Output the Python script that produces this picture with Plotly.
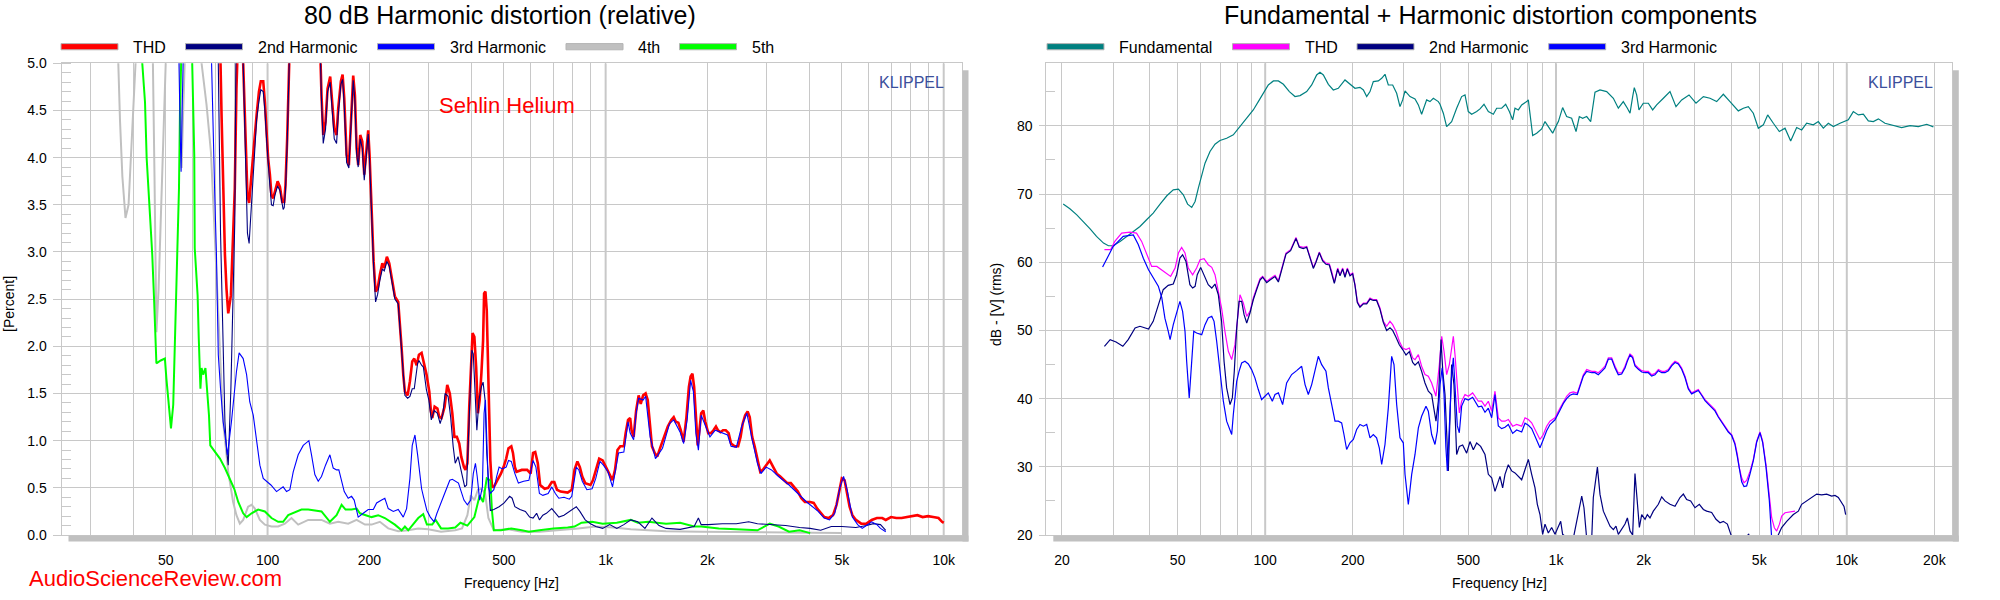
import plotly.graph_objects as go

W, H = 2000, 600
def px(x): return x / W
def py(y): return 1 - y / H

GRID = "#C8C8C8"
FONT = "Liberation Sans, Arial, sans-serif"

# ---------------- LEFT CHART DATA (percent) ----------------
thd_f = [70, 72.3, 73.1, 73.9, 74.8, 75.6, 76.5, 77.9, 79.1, 80.0, 80.9, 81.3, 83.0, 84.7, 85.7, 86.3, 87.2, 88.2, 89.2, 90.7, 91.7, 92.8, 94.3, 95.5, 97.1, 98.2, 99.3, 100.4, 101.6, 102.7, 103.9, 105.1, 107.1, 108.8, 110.5, 112.0, 113.0, 114.3, 115.1, 115.9, 125, 143.5, 144.4, 146.1, 148.4, 150.5, 153.2, 155.3, 157.5, 160.0, 161.8, 164.8, 166.7, 168.6, 171.3, 174.0, 176.4, 179.2, 181.3, 183.4, 185.4, 188.0, 190.6, 193.2, 196.3, 198.5, 200.3, 202.2, 204.0, 205.9, 208.7, 211.6, 214.9, 218.5, 221.4, 225.4, 229.1, 232.8, 238.0, 243.5, 246.3, 249.2, 252.0, 254.8, 259.6, 263.7, 267.9, 271.6, 276.0, 280.4, 285.5, 290.8, 295.3, 300.9, 304.3, 307.1, 312, 318, 322, 327, 334, 340, 346, 352, 357, 363, 369, 374, 381, 385, 390, 395, 399, 404, 409, 414, 419, 424, 429, 434, 437, 441, 445, 450, 456, 461, 467, 478, 490, 499, 508, 516, 526, 532, 539, 545, 565, 586, 600, 610, 619, 630, 640, 660, 676, 693, 705, 718, 736, 772, 794, 809, 825, 839, 853, 870, 902, 917, 935, 957, 980, 1004, 1028, 1048, 1066, 1084, 1105, 1132, 1146, 1165, 1182, 1193, 1210, 1231, 1252, 1270, 1291, 1313, 1332, 1354, 1371, 1397, 1421, 1455, 1491, 1527, 1564, 1590, 1613, 1641, 1669, 1701, 1734, 1763, 1784, 1806, 1827, 1849, 1872, 1894, 1917, 1945, 1972, 2011, 2050, 2084, 2120, 2150, 2187, 2224, 2267, 2311, 2350, 2407, 2465, 2507, 2543, 2586, 2630, 2668, 2713, 2759, 2812, 2866, 2915, 2985, 3058, 3132, 3208, 3285, 3365, 3446, 3530, 3615, 3703, 3793, 3885, 4027, 4125, 4225, 4327, 4433, 4562, 4706, 4819, 4936, 4996, 5092, 5179, 5267, 5369, 5499, 5700, 5908, 6124, 6346, 6579, 6738, 6986, 7241, 7506, 7780, 8065, 8360, 8665, 8983, 9311, 9652, 9886, 10005]
thd_v = [6.0, 5.3, 4.45, 3.67, 2.97, 2.61, 2.35, 2.54, 3.11, 3.67, 4.73, 5.0, 6.0, 5.0, 4.38, 3.92, 3.60, 3.52, 3.75, 4.03, 4.24, 4.45, 4.70, 4.81, 4.81, 4.59, 4.31, 3.99, 3.82, 3.60, 3.57, 3.64, 3.75, 3.69, 3.53, 3.53, 3.71, 4.20, 4.66, 5.0, 6.0, 5.0, 4.66, 4.24, 4.38, 4.73, 4.86, 4.56, 4.31, 4.24, 4.52, 4.81, 4.88, 4.63, 4.03, 3.92, 4.38, 4.87, 4.66, 4.10, 3.92, 4.24, 4.17, 3.82, 4.10, 4.29, 4.03, 3.60, 3.25, 2.90, 2.58, 2.61, 2.76, 2.88, 2.83, 2.95, 2.88, 2.72, 2.53, 2.47, 2.26, 1.98, 1.70, 1.52, 1.48, 1.63, 1.84, 1.87, 1.80, 1.91, 1.93, 1.80, 1.70, 1.52, 1.31, 1.24, 1.36, 1.34, 1.25, 1.24, 1.36, 1.59, 1.50, 1.29, 1.04, 1.04, 0.97, 0.83, 0.72, 0.69, 0.76, 1.36, 1.71, 2.14, 2.10, 1.78, 1.29, 1.43, 1.71, 2.06, 2.56, 2.58, 2.38, 1.64, 0.79, 0.51, 0.51, 0.58, 0.65, 0.72, 0.81, 0.92, 0.94, 0.87, 0.72, 0.67, 0.69, 0.69, 0.65, 0.87, 0.88, 0.76, 0.53, 0.49, 0.50, 0.56, 0.56, 0.48, 0.46, 0.45, 0.48, 0.69, 0.78, 0.72, 0.62, 0.55, 0.53, 0.58, 0.69, 0.81, 0.79, 0.72, 0.65, 0.58, 0.69, 0.90, 0.94, 0.94, 1.08, 1.22, 1.24, 1.11, 1.04, 1.32, 1.48, 1.39, 1.48, 1.50, 1.43, 1.11, 0.94, 0.87, 0.83, 0.94, 1.04, 1.15, 1.22, 1.25, 1.20, 1.19, 1.11, 0.99, 1.25, 1.57, 1.68, 1.71, 1.57, 1.29, 0.95, 1.11, 1.29, 1.32, 1.20, 1.08, 1.08, 1.11, 1.15, 1.11, 1.09, 1.11, 1.11, 1.08, 0.97, 0.94, 0.94, 1.04, 1.18, 1.27, 1.31, 1.25, 1.04, 0.94, 0.79, 0.67, 0.69, 0.74, 0.79, 0.72, 0.65, 0.62, 0.58, 0.55, 0.55, 0.51, 0.46, 0.39, 0.35, 0.35, 0.34, 0.28, 0.23, 0.19, 0.18, 0.21, 0.32, 0.51, 0.60, 0.58, 0.44, 0.30, 0.21, 0.16, 0.12, 0.12, 0.16, 0.18, 0.18, 0.16, 0.19, 0.18, 0.18, 0.19, 0.20, 0.21, 0.19, 0.20, 0.19, 0.18, 0.14, 0.13]

h2_f = [70, 71.5, 72.6, 73.9, 74.8, 75.6, 76.5, 77.9, 78.8, 79.5, 80.0, 80.6, 82, 84.7, 85.7, 86.3, 87.2, 88.2, 89.2, 90.7, 91.7, 92.8, 94.3, 95.5, 97.1, 98.2, 99.3, 100.4, 101.6, 102.7, 103.9, 105.1, 107.1, 108.8, 110.5, 111.2, 112.0, 113.0, 114.3, 115.1, 115.9, 125, 143.5, 144.4, 146.1, 148.4, 150.5, 153.2, 155.3, 157.5, 160.0, 161.8, 164.8, 166.7, 168.6, 171.3, 174.0, 176.4, 179.2, 181.3, 183.4, 185.4, 188.0, 190.6, 193.2, 196.3, 198.5, 200.3, 202.2, 204.0, 205.9, 208.7, 211.6, 214.9, 218.5, 221.4, 225.4, 229.1, 232.8, 238.0, 243.5, 246.3, 249.2, 252.0, 254.8, 259.6, 263.7, 267.9, 271.6, 277.9, 280.4, 285.5, 289, 295, 300, 305, 311, 318, 324, 330, 335, 342, 348, 354, 359, 366, 372, 378, 383, 388, 393, 398, 402, 406, 412, 416, 422, 429, 434, 440, 445, 450, 456, 467, 484, 501, 520, 529, 539, 558, 579, 596, 610, 625, 637, 652, 668, 693, 710, 727, 753, 781, 819, 839, 870, 902, 935, 980, 1028, 1079, 1132, 1187, 1245, 1307, 1371, 1438, 1509, 1661, 1827, 1881, 1917, 2011, 2213, 2436, 2649, 2812, 3095, 3406, 3748, 4027, 4327, 4650, 4996, 5499, 5908, 6197, 6501, 6738]
h2_v = [6.0, 5.0, 3.2, 1.9, 1.2, 0.92, 0.74, 1.55, 2.26, 2.97, 3.32, 5.0, 6.0, 5.0, 4.3, 3.6, 3.2, 3.09, 3.4, 3.9, 4.15, 4.4, 4.6, 4.72, 4.7, 4.5, 4.2, 3.9, 3.7, 3.5, 3.49, 3.6, 3.7, 3.65, 3.5, 3.45, 3.47, 3.65, 4.15, 4.6, 5.0, 6.0, 5.0, 4.6, 4.15, 4.3, 4.7, 4.8, 4.5, 4.2, 4.15, 4.45, 4.78, 4.83, 4.55, 3.95, 3.89, 4.3, 4.82, 4.6, 4.05, 3.9, 4.2, 4.1, 3.76, 4.05, 4.25, 3.98, 3.55, 3.2, 2.85, 2.47, 2.55, 2.7, 2.82, 2.8, 2.9, 2.85, 2.7, 2.5, 2.45, 2.22, 1.95, 1.67, 1.48, 1.45, 1.47, 1.55, 1.55, 1.82, 1.85, 1.80, 1.78, 1.54, 1.43, 1.22, 1.32, 1.29, 1.18, 1.28, 1.50, 1.47, 1.25, 0.94, 0.76, 0.83, 0.72, 0.62, 0.51, 0.53, 1.08, 1.57, 1.96, 1.92, 1.47, 1.11, 1.43, 1.57, 1.62, 1.43, 0.87, 0.55, 0.26, 0.27, 0.30, 0.34, 0.41, 0.39, 0.30, 0.27, 0.25, 0.19, 0.18, 0.23, 0.16, 0.21, 0.23, 0.28, 0.23, 0.19, 0.21, 0.25, 0.30, 0.25, 0.16, 0.12, 0.09, 0.07, 0.11, 0.07, 0.11, 0.16, 0.14, 0.07, 0.18, 0.10, 0.07, 0.06, 0.09, 0.18, 0.11, 0.11, 0.12, 0.12, 0.14, 0.12, 0.11, 0.10, 0.08, 0.07, 0.05, 0.09, 0.09, 0.08, 0.10, 0.12, 0.11, 0.05]

h3_f = [53.5, 54.7, 55.2, 55.5, 55.9, 56.3, 57, 68.3, 69.1, 69.8, 70.6, 71.5, 72.6, 73.9, 75.1, 76.1, 78.2, 80.0, 80.9, 82.4, 84.7, 86.7, 88.6, 90.7, 92.8, 94.9, 97.1, 99.3, 102.3, 106.3, 108.8, 111.2, 113.8, 116.4, 119.1, 123.2, 127.5, 132.5, 134.9, 138.0, 141.2, 144.4, 148.4, 152.9, 156.4, 160.0, 162.5, 165.6, 168.6, 173.2, 177.2, 180.4, 185.4, 191.9, 198.5, 205.5, 210.2, 217.5, 222.3, 227.5, 235.5, 243.5, 252.0, 257.8, 263.7, 267.9, 272.9, 277.9, 285.5, 289, 296, 303, 311, 317, 322, 334, 346, 352, 367, 381, 390, 399, 406, 412, 417, 424, 432, 437, 441, 445, 450, 456, 467, 476, 484, 495, 508, 516, 526, 539, 552, 572, 593, 610, 622, 637, 652, 676, 693, 710, 727, 753, 781, 794, 819, 833, 853, 880, 912, 935, 962, 985, 1016, 1048, 1066, 1092, 1132, 1165, 1182, 1210, 1231, 1252, 1291, 1313, 1354, 1404, 1473, 1545, 1590, 1661, 1701, 1742, 1784, 1818, 1849, 1881, 1917, 1963, 2035, 2110, 2213, 2295, 2350, 2436, 2525, 2617, 2713, 2812, 2880, 2985, 3095, 3247, 3488, 3748, 3932, 4225, 4433, 4594, 4762, 4936, 5056, 5179, 5369, 5565, 5741, 5908, 6124, 6346, 6501, 6738]
h3_v = [6.0, 5.0, 4.2, 3.85, 4.5, 5.0, 6.0, 5.0, 4.03, 3.60, 2.97, 1.91, 1.55, 1.20, 1.02, 0.85, 1.20, 1.55, 1.73, 1.93, 1.87, 1.70, 1.41, 1.27, 1.02, 0.74, 0.60, 0.57, 0.53, 0.46, 0.49, 0.51, 0.46, 0.48, 0.67, 0.85, 0.95, 1.0, 0.85, 0.64, 0.57, 0.62, 0.74, 0.85, 0.71, 0.69, 0.69, 0.57, 0.46, 0.39, 0.41, 0.37, 0.19, 0.23, 0.27, 0.27, 0.34, 0.37, 0.39, 0.28, 0.25, 0.27, 0.19, 0.28, 0.60, 0.95, 1.06, 0.85, 0.49, 0.41, 0.26, 0.19, 0.14, 0.23, 0.30, 0.44, 0.58, 0.59, 0.55, 0.37, 0.32, 0.37, 0.65, 0.76, 0.62, 0.37, 0.51, 1.29, 1.43, 1.08, 0.51, 0.44, 0.48, 0.62, 0.72, 0.70, 0.72, 0.79, 0.78, 0.65, 0.55, 0.57, 0.58, 0.79, 0.72, 0.44, 0.42, 0.44, 0.51, 0.44, 0.39, 0.40, 0.38, 0.41, 0.72, 0.69, 0.57, 0.48, 0.49, 0.60, 0.78, 0.74, 0.67, 0.51, 0.65, 0.87, 0.88, 1.20, 1.08, 1.01, 1.29, 1.45, 1.43, 1.47, 1.04, 0.81, 0.92, 1.18, 1.22, 1.09, 0.97, 1.22, 1.64, 1.52, 1.08, 0.90, 1.27, 1.18, 1.04, 1.11, 1.08, 1.06, 0.94, 0.93, 1.15, 1.29, 1.01, 0.76, 0.65, 0.72, 0.69, 0.62, 0.53, 0.42, 0.35, 0.26, 0.18, 0.16, 0.23, 0.51, 0.62, 0.48, 0.19, 0.11, 0.07, 0.10, 0.14, 0.11, 0.07, 0.035]

h4_f = [35.5, 36.1, 36.6, 37.2, 38.0, 38.8, 39.5, 40.3, 41.0, 42, 45.0, 45.8, 46.3, 46.9, 47.6, 48.5, 49.3, 50.0, 51, 54.5, 55.0, 55.7, 56.3, 56.8, 58, 63.0, 63.8, 66.0, 68.0, 69.5, 71.0, 72.3, 73.9, 76.5, 79.1, 80.9, 82.8, 84.7, 87.6, 89.7, 91.7, 94.9, 98.2, 102.7, 107.5, 112.5, 117.7, 123.2, 131.9, 144.4, 152.9, 161.8, 173.2, 183.4, 194.1, 203.1, 214.9, 227.5, 243.5, 260.7, 279.1, 298.7, 326, 359, 376, 390, 399, 409, 419, 429, 440, 450, 467, 514, 565, 637, 736, 829, 935, 1053, 1187, 1509, 1917, 2436, 3095, 3932, 4996]
h4_v = [6.0, 5.0, 4.4, 3.8, 3.36, 3.5, 4.0, 4.6, 5.0, 6.0, 6.0, 5.0, 3.8, 2.15, 2.6, 3.5, 4.4, 5.0, 6.0, 6.0, 5.0, 3.89, 4.5, 5.0, 6.0, 6.0, 5.0, 4.56, 4.06, 3.32, 2.61, 1.91, 1.20, 0.67, 0.35, 0.21, 0.12, 0.16, 0.30, 0.32, 0.28, 0.16, 0.11, 0.09, 0.09, 0.12, 0.18, 0.11, 0.16, 0.16, 0.12, 0.14, 0.12, 0.16, 0.11, 0.11, 0.14, 0.07, 0.04, 0.05, 0.07, 0.06, 0.035, 0.05, 0.07, 0.21, 0.42, 0.37, 0.48, 0.49, 0.44, 0.18, 0.05, 0.06, 0.035, 0.035, 0.05, 0.07, 0.09, 0.08, 0.06, 0.04, 0.035, 0.03, 0.03, 0.02, 0.02]

h5_f = [42, 42.6, 43.4, 43.9, 44.9, 45.6, 46.2, 46.7, 46.9, 48.3, 49.7, 50.2, 51.2, 51.8, 52.6, 53.2, 54.0, 54.7, 55.1, 55.4, 56.5, 59, 59.8, 60.7, 60.9, 62.1, 62.6, 63.3, 63.8, 64.5, 65.5, 66.4, 67.1, 67.7, 69.8, 72.3, 74.8, 77.4, 79.7, 81.9, 84.7, 86.7, 89.7, 93.8, 98.2, 102.7, 107.5, 111.2, 115.1, 126.0, 131.9, 144.4, 152.9, 160.0, 165.6, 170.1, 177.2, 183.4, 187.6, 203.1, 212.5, 222.3, 238.0, 249.2, 254.8, 260.7, 269.7, 279.1, 288.7, 296, 307, 314, 326, 342, 359, 372, 390, 409, 424, 434, 445, 456, 461, 467, 490, 526, 565, 593, 637, 701, 772, 809, 849, 912, 980, 1079, 1187, 1245, 1338, 1509, 1661, 1827, 1917, 2161, 2436, 2812, 3058, 3247, 3488, 3748, 4027]
h5_v = [6.0, 5.0, 4.59, 3.99, 3.39, 2.97, 2.47, 2.01, 1.82, 1.85, 1.87, 1.66, 1.34, 1.13, 1.38, 2.08, 2.79, 3.67, 4.56, 5.0, 6.0, 6.0, 5.0, 4.03, 3.04, 2.54, 2.08, 1.55, 1.77, 1.70, 1.77, 1.48, 1.27, 0.95, 0.88, 0.81, 0.71, 0.60, 0.49, 0.35, 0.23, 0.19, 0.23, 0.27, 0.25, 0.18, 0.14, 0.14, 0.21, 0.27, 0.27, 0.25, 0.14, 0.21, 0.32, 0.27, 0.27, 0.28, 0.23, 0.19, 0.21, 0.18, 0.11, 0.05, 0.09, 0.05, 0.12, 0.18, 0.22, 0.11, 0.11, 0.16, 0.07, 0.07, 0.08, 0.13, 0.10, 0.19, 0.42, 0.35, 0.60, 0.58, 0.26, 0.05, 0.05, 0.07, 0.05, 0.035, 0.05, 0.07, 0.08, 0.09, 0.13, 0.14, 0.12, 0.13, 0.16, 0.13, 0.14, 0.12, 0.13, 0.09, 0.09, 0.07, 0.06, 0.05, 0.12, 0.09, 0.035, 0.05, 0.02]

# ---------------- RIGHT CHART DATA (dB) ----------------
fund_f = [20.2, 21.3, 22.5, 23.7, 25.0, 26.3, 27.8, 28.9, 30.0, 31.7, 33.4, 35.2, 37.1, 39.1, 41.2, 43.5, 45.9, 48.3, 50.3, 52.3, 54.1, 55.9, 57.4, 58.9, 60.5, 62.1, 64.6, 67.2, 69.9, 73.7, 77.7, 81.9, 86.4, 91.0, 94.7, 98.5, 102.5, 106.7, 111.0, 115.5, 121.1, 126.6, 131.8, 138.9, 144.5, 150.3, 154.3, 158.5, 164.9, 171.5, 178.4, 188.1, 195.7, 203.6, 211.8, 217.6, 223.4, 229.3, 235.4, 244.9, 251.5, 258.2, 265.1, 274.4, 283.2, 290.8, 297.0, 302.6, 314.8, 327.5, 336.3, 345.1, 359.1, 368.7, 378.6, 393.9, 399.1, 409.8, 420.7, 437.7, 455.4, 473.8, 486.5, 499.4, 512.9, 533.6, 547.9, 565.5, 585.3, 608.9, 625.2, 650.5, 671.4, 691.2, 709.6, 722.8, 742.2, 762.1, 792.9, 803.3, 809.7, 831.4, 858.1, 892.8, 916.7, 941.1, 974.0, 1005, 1019, 1054, 1088, 1132, 1172, 1203, 1235, 1275, 1316, 1362, 1417, 1494, 1575, 1638, 1704, 1760, 1797, 1835, 1859, 1894, 1929, 1996, 2077, 2150, 2219, 2340, 2466, 2586, 2705, 2867, 3030, 3212, 3385, 3569, 3762, 3966, 4236, 4408, 4585, 4771, 4964, 5164, 5345, 5590, 5861, 6132, 6412, 6724, 6995, 7278, 7672, 7981, 8304, 8640, 8989, 9477, 9858, 10120, 10530, 10960, 11400, 11860, 12340, 12840, 13530, 14460, 15440, 16500, 17620, 18830, 19850]
fund_v = [68.53, 67.84, 66.96, 65.99, 64.91, 63.79, 62.81, 62.42, 62.42, 63.06, 63.79, 64.52, 65.25, 66.23, 67.21, 68.53, 69.75, 70.63, 70.72, 69.89, 68.53, 68.04, 68.92, 70.87, 72.82, 74.53, 76.24, 77.31, 77.85, 78.19, 78.68, 79.90, 81.12, 82.34, 83.56, 84.79, 86.0, 86.59, 86.59, 86.10, 85.03, 84.30, 84.44, 85.03, 86.0, 87.47, 87.86, 87.47, 86.10, 85.27, 85.52, 86.74, 86.10, 85.52, 85.66, 85.27, 84.30, 85.03, 86.49, 86.59, 86.98, 87.57, 86.0, 86.0, 84.79, 82.83, 83.81, 85.13, 84.30, 83.96, 83.08, 81.71, 83.81, 83.56, 84.05, 83.56, 83.17, 81.86, 79.90, 80.63, 82.59, 84.30, 84.54, 82.10, 81.71, 82.10, 82.49, 83.17, 82.10, 81.71, 82.59, 82.59, 83.17, 82.10, 80.88, 82.59, 82.34, 83.08, 83.56, 83.81, 82.59, 78.58, 78.93, 79.56, 80.63, 79.90, 78.93, 80.15, 80.63, 82.69, 81.37, 81.12, 79.17, 81.37, 81.12, 81.37, 80.63, 84.93, 85.27, 85.03, 84.05, 82.59, 83.56, 82.59, 81.86, 84.30, 85.62, 84.54, 82.34, 83.32, 83.32, 82.34, 83.08, 84.05, 85.03, 82.83, 83.81, 84.54, 83.32, 84.30, 84.05, 83.56, 84.64, 83.56, 82.20, 82.59, 82.83, 81.86, 79.66, 80.15, 81.61, 80.39, 79.17, 79.66, 77.80, 79.76, 79.41, 80.39, 80.15, 80.63, 79.66, 80.39, 79.90, 80.39, 80.63, 80.88, 82.10, 81.61, 81.71, 80.73, 80.63, 81.03, 80.39, 80.05, 79.76, 80.05, 79.90, 80.24, 79.85]

thdr_f = [28.0, 29.4, 30.4, 32.1, 34.3, 36.1, 37.6, 39.1, 40.7, 42.4, 44.1, 45.9, 47.3, 49.0, 50.3, 51.6, 53.0, 54.4, 56.3, 58.1, 59.7, 61.6, 63.7, 65.5, 67.2, 69.0, 70.8, 72.7, 74.7, 76.7, 78.7, 80.2, 81.9, 84.1, 86.4, 88.7, 91.0, 93.5, 96.0, 98.0, 101.2, 103.9, 108.1, 111.0, 113.9, 117.9, 122.3, 127.6, 131.0, 135.2, 138.9, 142.6, 146.4, 149.5, 153.5, 157.6, 161.8, 166.2, 169.3, 172.9, 177.5, 180.8, 184.7, 188.1, 191.6, 195.7, 199.9, 203.6, 207.4, 211.8, 217.6, 223.4, 229.3, 235.4, 241.6, 248.2, 254.8, 261.6, 268.6, 274.4, 281.7, 289.2, 297.0, 305.0, 313.1, 321.5, 327.5, 336.3, 345.1, 354.4, 363.9, 373.6, 386.6, 397.0, 404.6, 412.1, 420.7, 429.8, 437.7, 443.6, 449.5, 457.8, 465.1, 473.8, 486.5, 499.4, 516.8, 526.5, 540.6, 555.1, 570.0, 585.3, 600.9, 616.9, 633.4, 650.5, 667.8, 685.6, 709.6, 732.4, 762.1, 782.5, 803.4, 824.8, 851.4, 881.0, 904.5, 928.7, 953.6, 992.2, 1032, 1060, 1088, 1117, 1147, 1184, 1209, 1242, 1275, 1327, 1362, 1398, 1436, 1474, 1514, 1554, 1596, 1638, 1682, 1727, 1760, 1797, 1835, 1869, 1920, 1971, 2024, 2077, 2133, 2190, 2249, 2310, 2370, 2434, 2499, 2566, 2634, 2705, 2777, 2852, 2927, 3006, 3086, 3168, 3254, 3340, 3430, 3521, 3615, 3712, 3811, 3913, 4018, 4125, 4203, 4270, 4350, 4431, 4525, 4650, 4771, 4898, 5029, 5136, 5274, 5416, 5517, 5635, 5740, 5863, 5972, 6133, 6381, 6637]
thdr_v = [61.84, 61.84, 63.06, 64.28, 64.42, 64.28, 63.06, 61.10, 59.39, 59.39, 58.91, 58.42, 57.93, 59.15, 61.35, 62.18, 61.35, 59.15, 58.17, 59.15, 60.37, 60.52, 59.64, 59.25, 58.17, 55.73, 53.29, 49.87, 46.94, 45.72, 47.92, 51.34, 55.24, 54.02, 52.07, 52.80, 54.76, 56.22, 57.59, 57.93, 57.20, 57.59, 58.08, 57.30, 59.15, 61.35, 61.84, 63.64, 62.32, 62.18, 62.32, 60.86, 59.25, 60.13, 61.49, 60.37, 59.88, 59.74, 58.66, 57.05, 59.15, 58.17, 59.15, 57.93, 59.15, 58.17, 58.42, 56.71, 54.27, 53.54, 54.02, 54.02, 54.76, 54.51, 54.51, 53.29, 51.34, 50.61, 51.34, 50.85, 49.87, 48.41, 47.43, 47.19, 47.43, 45.97, 45.72, 46.45, 44.75, 43.53, 43.28, 42.30, 40.35, 44.99, 49.14, 46.94, 43.53, 44.99, 47.92, 49.14, 46.45, 41.57, 37.91, 39.62, 40.60, 40.35, 40.84, 40.35, 39.62, 39.62, 38.89, 39.62, 38.16, 41.09, 37.18, 36.69, 36.69, 36.94, 35.96, 36.21, 35.96, 37.18, 36.94, 36.45, 35.23, 34.00, 34.74, 35.96, 36.69, 37.18, 38.6, 39.6, 40.35, 40.84, 41.0, 40.8, 42.06, 43.5, 44.26, 44.0, 44.0, 43.8, 44.26, 44.75, 45.97, 45.97, 44.75, 43.77, 43.77, 44.75, 45.72, 46.55, 46.2, 44.99, 44.5, 44.11, 44.0, 44.0, 43.5, 43.7, 44.26, 44.0, 44.0, 44.26, 44.99, 45.48, 45.23, 44.5, 43.28, 41.57, 40.84, 41.09, 41.33, 40.6, 39.86, 39.38, 38.89, 38.4, 37.42, 36.69, 35.96, 35.23, 34.74, 33.52, 31.81, 29.85, 28.39, 27.66, 28.0, 29.36, 31.07, 33.76, 35.13, 33.76, 30.34, 25.95, 22.53, 21.06, 20.58, 21.55, 22.77, 23.26, 23.4, 23.5]

h2r_f = [28.0, 29.3, 30.7, 32.4, 33.8, 35.7, 37.1, 39.7, 41.2, 42.9, 44.6, 46.4, 48.3, 49.6, 50.9, 52.0, 53.4, 55.1, 56.3, 57.4, 58.4, 60.0, 61.6, 63.7, 65.5, 67.2, 69.0, 70.8, 72.2, 73.7, 75.7, 77.1, 78.3, 79.8, 81.3, 83.0, 84.6, 86.4, 88.7, 91.0, 93.5, 96.0, 98.0, 101.2, 103.9, 108.1, 111.0, 113.9, 117.9, 122.3, 127.6, 131.0, 135.2, 138.9, 142.6, 146.4, 149.5, 153.5, 157.6, 161.8, 166.2, 169.3, 172.9, 177.5, 180.8, 184.7, 188.1, 191.6, 195.7, 199.9, 203.6, 207.4, 211.8, 217.6, 223.4, 229.3, 235.4, 241.6, 248.2, 254.8, 261.6, 268.6, 274.4, 281.7, 289.2, 297.0, 305.0, 313.1, 321.5, 327.5, 336.3, 345.1, 354.4, 363.9, 373.6, 380.0, 386.6, 393.9, 402.4, 408.0, 415.3, 426.4, 437.7, 445.9, 455.4, 465.1, 477.5, 492.9, 506.1, 519.6, 533.6, 550.7, 570.0, 585.3, 600.9, 616.9, 628.4, 641.8, 655.5, 667.8, 685.6, 704.0, 722.8, 742.2, 762.1, 782.5, 803.4, 824.8, 846.9, 862.6, 881.0, 899.8, 916.7, 941.1, 966.2, 992.2, 1019, 1038, 1054, 1100, 1147, 1172, 1193, 1226, 1248, 1275, 1327, 1344, 1388, 1417, 1455, 1494, 1534, 1575, 1608, 1638, 1682, 1727, 1760, 1797, 1835, 1869, 1894, 1935, 1971, 2024, 2061, 2105, 2161, 2249, 2310, 2370, 2466, 2566, 2669, 2741, 2814, 2905, 3006, 3111, 3212, 3297, 3430, 3550, 3664, 3762, 3884, 3988, 4073, 4300, 4600, 4700, 5740, 5970, 6214, 6548, 6813, 6995, 7278, 7572, 7877, 8195, 8525, 8869, 9108, 9352, 9603, 9782, 9911]
h2r_v = [47.68, 48.65, 48.31, 47.68, 48.65, 50.36, 50.61, 50.21, 51.34, 53.78, 55.98, 56.61, 56.81, 58.17, 60.62, 61.10, 60.13, 56.71, 56.22, 56.47, 58.17, 59.25, 58.17, 56.71, 56.22, 56.81, 55.24, 51.34, 45.48, 41.57, 39.13, 40.11, 44.01, 50.36, 54.27, 54.27, 52.32, 51.10, 52.6, 54.5, 56.0, 57.4, 57.8, 57.0, 57.4, 57.9, 57.1, 59.0, 61.2, 61.7, 63.5, 62.2, 62.0, 62.2, 60.7, 59.1, 60.0, 61.4, 60.2, 59.7, 59.6, 58.5, 56.9, 59.0, 58.0, 59.0, 57.8, 59.0, 58.0, 58.3, 56.6, 54.1, 53.4, 53.9, 53.9, 54.6, 54.4, 54.4, 53.1, 51.2, 50.0, 50.4, 50.0, 49.0, 47.9, 47.2, 46.4, 46.9, 45.3, 44.9, 45.4, 44.0, 42.3, 41.1, 40.6, 38.6, 36.7, 39.6, 48.65, 44.0, 40.6, 29.4, 45.0, 42.0, 31.8, 33.0, 33.2, 32.0, 33.7, 32.5, 33.5, 33.0, 31.8, 28.9, 28.4, 26.4, 27.4, 28.6, 26.9, 28.9, 30.3, 29.4, 29.1, 28.6, 28.1, 29.6, 31.1, 28.9, 26.9, 24.5, 23.0, 20.1, 21.6, 20.3, 21.1, 20.1, 21.1, 22.0, 20.1, 19.5, 19.5, 21.6, 23.5, 25.7, 24.0, 19.5, 19.5, 25.5, 29.95, 25.95, 23.5, 22.5, 21.3, 20.8, 21.3, 20.1, 20.8, 21.6, 22.5, 20.6, 20.0, 29.0, 26.0, 21.1, 23.0, 22.3, 23.0, 22.5, 23.5, 24.5, 25.6, 25.0, 24.5, 24.2, 25.5, 26.0, 25.2, 24.98, 24.0, 24.5, 23.75, 23.5, 23.3, 22.3, 21.8, 22.0, 21.6, 20.1, 19.0, 19.0, 20.1, 19.0, 19.5, 21.1, 22.0, 23.0, 23.5, 24.5, 25.0, 25.5, 26.0, 25.9, 26.0, 25.7, 25.8, 25.5, 24.7, 24.2, 23.0]

h3r_f = [27.6, 30.0, 32.5, 34.3, 35.2, 36.6, 38.1, 39.7, 41.2, 42.9, 44.1, 45.2, 46.4, 47.1, 48.3, 49.6, 50.9, 52.0, 53.0, 53.7, 54.4, 54.8, 55.4, 56.3, 56.8, 58.1, 60.5, 62.1, 63.7, 65.5, 66.7, 68.1, 69.9, 71.8, 73.7, 75.3, 76.7, 77.7, 78.7, 79.8, 81.3, 83.0, 85.2, 87.5, 89.8, 92.2, 94.7, 97.2, 99.8, 102.5, 105.8, 108.1, 111.0, 114.8, 118.5, 123.3, 128.3, 133.5, 137.1, 140.7, 144.5, 148.4, 152.3, 156.4, 161.8, 164.9, 169.3, 173.8, 178.4, 183.2, 186.6, 190.6, 195.7, 201.0, 206.3, 211.8, 217.6, 223.4, 229.3, 235.4, 241.6, 246.8, 251.5, 258.2, 265.1, 272.2, 277.3, 283.2, 290.8, 298.5, 302.6, 310.6, 319.0, 327.5, 336.3, 345.1, 357.2, 363.9, 373.6, 383.6, 390.8, 399.1, 406, 412.1, 418, 423.0, 430, 437, 443.6, 450, 457.8, 465.1, 473.8, 486.5, 499.4, 516.8, 526.5, 540.6, 555.1, 570.0, 585.3, 600.9, 616.9, 633.4, 650.5, 667.8, 685.6, 709.6, 732.4, 762.1, 782.5, 803.4, 824.8, 851.4, 881.0, 904.5, 928.7, 953.6, 992.2, 1032, 1060, 1088, 1117, 1147, 1184, 1209, 1242, 1275, 1327, 1362, 1398, 1436, 1474, 1514, 1554, 1596, 1638, 1682, 1727, 1760, 1797, 1835, 1869, 1920, 1971, 2024, 2077, 2133, 2190, 2249, 2310, 2370, 2434, 2499, 2566, 2634, 2705, 2777, 2852, 2927, 3006, 3086, 3168, 3254, 3340, 3430, 3521, 3615, 3712, 3811, 3913, 4018, 4125, 4203, 4270, 4350, 4431, 4525, 4650, 4771, 4898, 5029, 5136, 5274, 5416, 5517]
h3r_v = [59.3, 62.3, 63.8, 64.0, 64.0, 62.6, 60.6, 58.9, 57.8, 56.5, 54.8, 51.8, 49.9, 48.65, 50.85, 52.56, 54.27, 52.8, 49.87, 45.48, 42.55, 40.11, 43.04, 47.43, 49.87, 49.62, 49.38, 50.85, 51.83, 52.07, 51.34, 48.41, 43.53, 39.62, 36.69, 35.72, 34.74, 37.67, 40.11, 42.55, 44.01, 45.23, 45.48, 45.09, 44.26, 43.04, 41.33, 39.86, 40.35, 40.84, 39.62, 40.60, 40.84, 39.13, 42.30, 43.53, 44.11, 44.75, 42.06, 40.60, 42.06, 44.26, 46.21, 44.99, 44.01, 41.57, 39.13, 36.69, 36.69, 36.45, 34.74, 32.54, 33.52, 34.0, 35.47, 36.21, 35.96, 36.21, 34.25, 34.74, 34.25, 32.79, 30.34, 33.27, 38.65, 46.21, 44.99, 39.13, 34.25, 33.52, 28.88, 24.48, 28.88, 31.81, 35.72, 37.42, 38.89, 38.16, 34.74, 33.27, 35.23, 42.0, 44.5, 40.6, 33.0, 29.4, 36.0, 43.0, 46.0, 42.0, 36.0, 35.0, 38.9, 40.0, 39.8, 40.2, 39.6, 38.8, 38.9, 38.0, 38.6, 37.2, 40.6, 36.0, 35.6, 35.8, 36.2, 34.9, 35.4, 35.1, 36.4, 36.1, 35.6, 34.3, 32.8, 34.0, 35.3, 36.2, 36.9, 38.3, 39.3, 40.0, 40.5, 40.7, 40.6, 41.8, 43.3, 44.0, 43.8, 43.8, 43.5, 44.0, 44.5, 45.8, 45.8, 44.5, 43.5, 43.6, 44.5, 45.5, 46.4, 46.0, 44.8, 44.3, 43.9, 43.8, 43.8, 43.3, 43.5, 44.1, 43.8, 43.8, 44.1, 44.8, 45.3, 45.1, 44.3, 43.1, 41.4, 40.7, 40.9, 41.2, 40.5, 39.7, 39.2, 38.7, 38.2, 37.3, 36.5, 35.8, 35.1, 34.6, 33.3, 31.5, 29.5, 27.8, 27.1, 27.2, 29.0, 30.9, 33.6, 35.0, 33.6, 30.0, 25.0, 19.5]

# ---------------- AXIS TICKS ----------------
grid_left = [30, 40, 50, 60, 70, 80, 90, 100, 200, 300, 400, 500, 600, 700, 800, 900,
             1000, 2000, 3000, 4000, 5000, 6000, 7000, 8000, 9000, 10000]
grid_right = [20] + grid_left + [20000]
freq_labels = {20: "20", 50: "50", 100: "100", 200: "200", 500: "500", 1000: "1k",
               2000: "2k", 5000: "5k", 10000: "10k", 20000: "20k"}
decades = [100, 1000, 10000]
pct_ticks = [0, 0.5, 1.0, 1.5, 2.0, 2.5, 3.0, 3.5, 4.0, 4.5, 5.0]
db_ticks = [20, 30, 40, 50, 60, 70, 80]

fig = go.Figure()

def dec_lines(ymin, ymax, xa, ya):
    xs, ys = [], []
    for d in decades:
        xs += [d, d, None]
        ys += [ymin, ymax, None]
    fig.add_trace(go.Scatter(x=xs, y=ys, mode="lines", line=dict(color=GRID, width=2),
                             xaxis=xa, yaxis=ya, hoverinfo="skip", showlegend=False))

dec_lines(0, 5, "x", "y")
dec_lines(20, 90, "x2", "y2")

def add_line(f, v, color, width, xa, ya, name):
    fig.add_trace(go.Scatter(x=f, y=v, mode="lines", name=name,
                             line=dict(color=color, width=width, shape="linear"),
                             xaxis=xa, yaxis=ya, showlegend=False))

add_line(thd_f, thd_v, "#FF0000", 2.6, "x", "y", "THD")
add_line(h4_f, h4_v, "#C0C0C0", 2, "x", "y", "4th")
add_line(h5_f, h5_v, "#00FF00", 2, "x", "y", "5th")
add_line(h2_f, h2_v, "#000080", 1.1, "x", "y", "2nd Harmonic")
add_line(h3_f, h3_v, "#0000FF", 1.1, "x", "y", "3rd Harmonic")

add_line(fund_f, fund_v, "#008080", 1.2, "x2", "y2", "Fundamental")
add_line(thdr_f, thdr_v, "#FF00FF", 1.2, "x2", "y2", "THD")
add_line(h2r_f, h2r_v, "#000080", 1.2, "x2", "y2", "2nd Harmonic")
add_line(h3r_f, h3r_v, "#0000FF", 1.2, "x2", "y2", "3rd Harmonic")

TICKFONT = dict(family=FONT, size=14, color="#000000")

def xaxis_cfg(domain, rng, grid):
    return dict(type="log", domain=domain, range=rng, tickmode="array",
                tickvals=grid, ticktext=[freq_labels.get(g, "") for g in grid],
                showgrid=True, gridcolor=GRID, gridwidth=1, ticks="",
                showline=True, mirror=True, linecolor=GRID, linewidth=1,
                zeroline=False, tickfont=TICKFONT, ticklabelstandoff=12)

ydom = [py(535), py(63.3)]
fig.update_layout(
    width=W, height=H, margin=dict(l=0, r=0, t=0, b=0, pad=0, autoexpand=False),
    paper_bgcolor="white", plot_bgcolor="white", showlegend=False,
    xaxis=dict(**xaxis_cfg([px(61.5), px(962)], [1.3905, 4.0541], grid_left), anchor="y"),
    yaxis=dict(domain=ydom, range=[0, 5], tickmode="array", tickvals=pct_ticks,
               ticktext=[f"{t:.1f}" for t in pct_ticks], showgrid=True, gridcolor=GRID,
               ticks="outside", ticklen=8, tickcolor=GRID, showline=True, mirror=True,
               linecolor=GRID, zeroline=False, tickfont=TICKFONT, anchor="x",
               ticklabelstandoff=3,
               minor=dict(ticks="inside", ticklen=9, tickcolor=GRID, tickmode="linear",
                          tick0=0, dtick=0.1, showgrid=False)),
    xaxis2=dict(**xaxis_cfg([px(1046.3), px(1952.3)], [1.2473, 4.3628], grid_right), anchor="y2"),
    yaxis2=dict(domain=ydom, range=[20, 89.18], tickmode="array", tickvals=db_ticks,
                ticktext=[str(t) for t in db_ticks], showgrid=True, gridcolor=GRID,
                ticks="outside", ticklen=6, tickcolor=GRID, showline=True, mirror=True,
                linecolor=GRID, zeroline=False, tickfont=TICKFONT, anchor="x2",
                ticklabelstandoff=4,
                minor=dict(ticks="inside", ticklen=9, tickcolor=GRID, tickmode="linear",
                           tick0=0, dtick=5, showgrid=False)),
)

shapes = []
# drop shadows
SH = "#C0C0C0"
for (l, t, r, b) in [(61.5, 63.3, 962, 535), (1046.3, 63.3, 1952.3, 535)]:
    shapes.append(dict(type="rect", xref="paper", yref="paper", x0=px(r + 0.5), x1=px(r + 6.5),
                       y0=py(t + 7), y1=py(b + 6.5), fillcolor=SH, line=dict(width=0), layer="above"))
    shapes.append(dict(type="rect", xref="paper", yref="paper", x0=px(l + 7), x1=px(r + 6.5),
                       y0=py(b + 0.5), y1=py(b + 6.5), fillcolor=SH, line=dict(width=0), layer="above"))

annotations = []
def text(x, y, s, size, color="#000000", xanchor="center", angle=0, family=FONT):
    annotations.append(dict(x=px(x), y=py(y), xref="paper", yref="paper", text=s,
                            showarrow=False, xanchor=xanchor, yanchor="middle",
                            textangle=angle, font=dict(family=family, size=size, color=color)))

# legends
leg_left = [("THD", "#FF0000", 61), ("2nd Harmonic", "#000080", 185.5), ("3rd Harmonic", "#0000FF", 377.5),
            ("4th", "#C0C0C0", 566), ("5th", "#00FF00", 679.5)]
leg_right = [("Fundamental", "#008080", 1047), ("THD", "#FF00FF", 1232.5),
             ("2nd Harmonic", "#000080", 1357), ("3rd Harmonic", "#0000FF", 1548.7)]
for label, col, x0 in leg_left + leg_right:
    shapes.append(dict(type="rect", xref="paper", yref="paper", x0=px(x0), x1=px(x0 + 57),
                       y0=py(49.8), y1=py(43.6), fillcolor=col, line=dict(color="#B4B4B4", width=1)))
    text(x0 + 70, 47, label, 16, xanchor="left")

text(500, 15, "80 dB Harmonic distortion (relative)", 25)
text(1490, 15, "Fundamental + Harmonic distortion components", 25)
text(507, 105, "Sehlin Helium", 22, color="#FF0000")
text(911, 83, "KLIPPEL", 16, color="#3B4F9C")
text(1900, 83, "KLIPPEL", 16, color="#3B4F9C")
text(9, 304, "[Percent]", 14, angle=-90)
text(996, 305, "dB - [V] (rms)", 14, angle=-90)
text(511, 583, "Frequency [Hz]", 14)
text(1499, 583, "Frequency [Hz]", 14)
text(27, 578, "AudioScienceReview.com", 22, color="#FF0000", xanchor="left")

fig.update_layout(shapes=shapes, annotations=annotations)
fig.write_html("out.html")
